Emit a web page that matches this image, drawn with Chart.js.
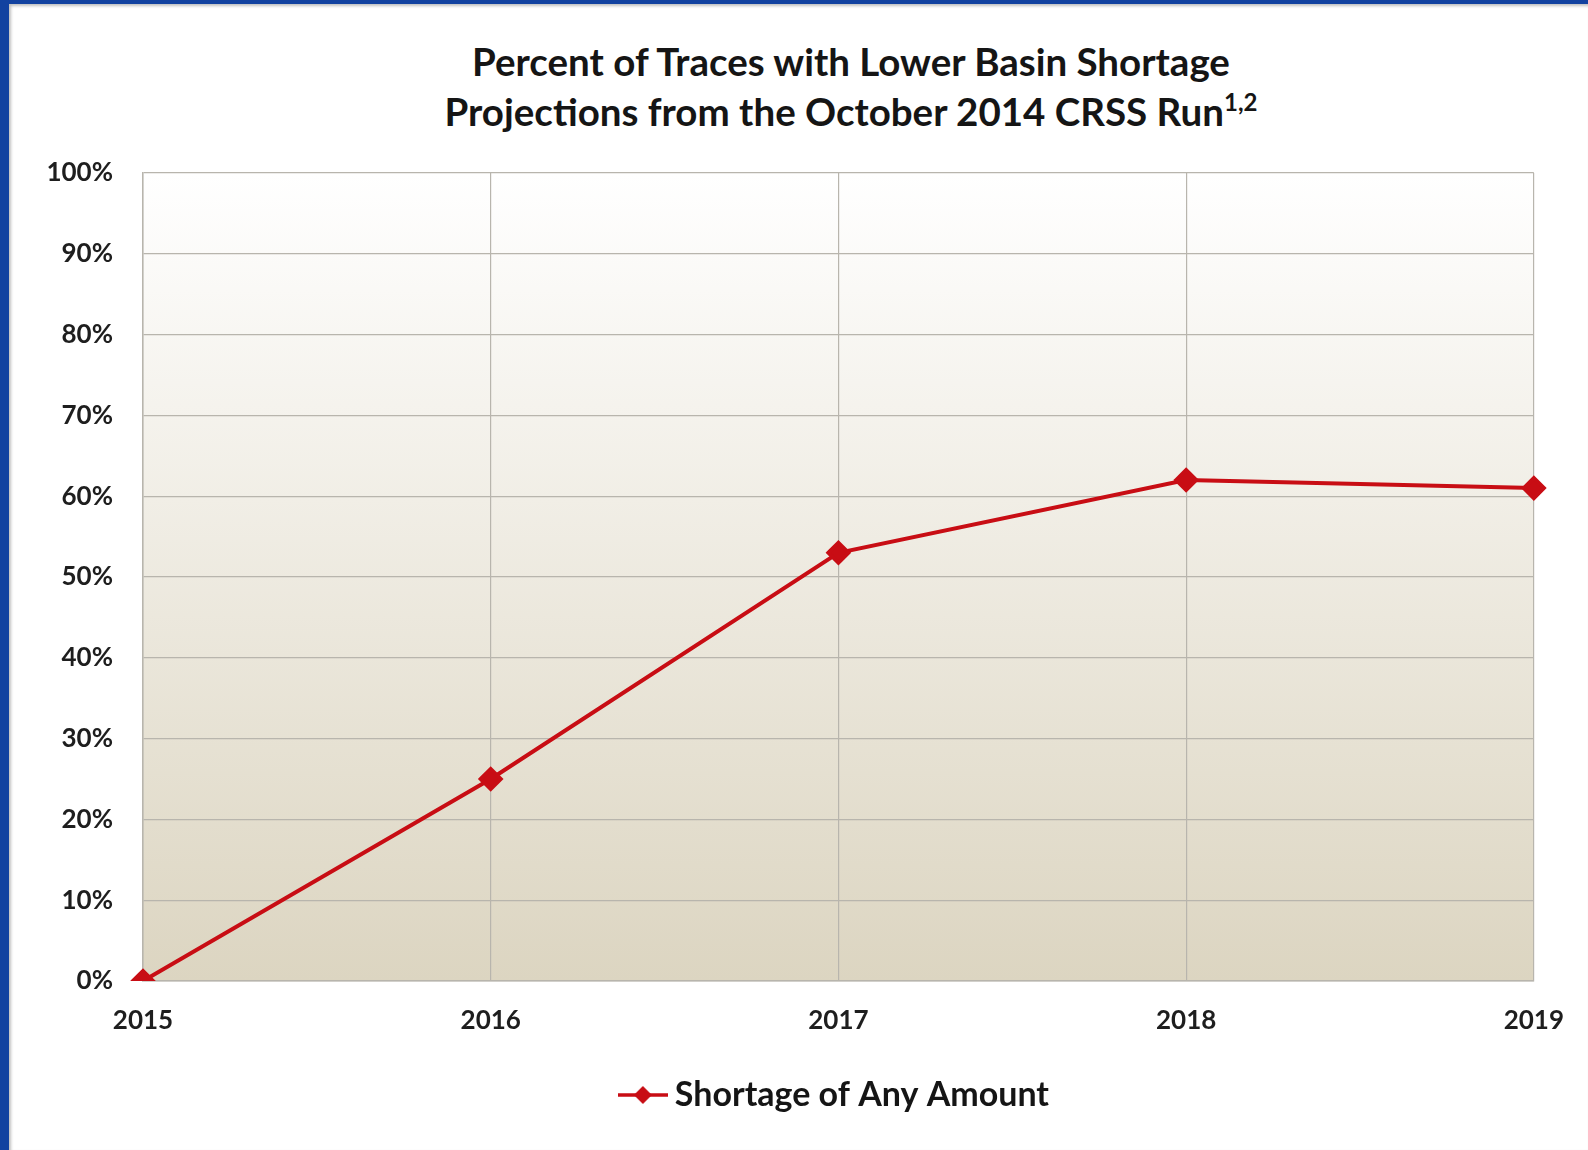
<!DOCTYPE html>
<html>
<head>
<meta charset="utf-8">
<script src="https://cdn.jsdelivr.net/npm/chart.js@4.4.1/dist/chart.umd.min.js"></script>
<style>
	html, body { margin: 0; padding: 0; }
	body { width: 1588px; height: 1150px; background: #1242a0; position: relative; overflow: hidden; }
	#sheet { position: absolute; left: 9px; top: 4px; right: 0; bottom: 0; background: #fff; box-shadow: inset 2px 2px 3px rgba(0,0,0,0.25); }
	#title { position: absolute; left: 351px; top: 36px; width: 1000px; text-align: center; font: bold 38.5px Lato, sans-serif; line-height: 50px; color: #151515; }
	#title sup { font-size: 24px; line-height: 0; vertical-align: 15px; }
	#wrap { position: absolute; left: 0; top: 0; width: 1588px; height: 1150px; }
</style>
</head>
<body>
<div id="sheet"></div>
<div id="title">Percent of Traces with Lower Basin Shortage<br>Projections from the October 2014 CRSS Run<sup>1,2</sup></div>
<div id="wrap"><canvas id="chart-shortage"></canvas></div>
<script>
const YEARS = ["2015", "2016", "2017", "2018", "2019"];
const SHORTAGE_ANY = [0, 25, 53, 62, 61];
const SERIES_LABEL = "Shortage of Any Amount";
const Y_TICKS = [0, 10, 20, 30, 40, 50, 60, 70, 80, 90, 100];

const RED = "#c80d14";
const GRID = "#b8b5ad";
const FONT = "Lato, sans-serif";

// legend icon: short line with a diamond in the middle
const legendIcon = document.createElement("canvas");
legendIcon.width = 50;
legendIcon.height = 20;
(() => {
	const ctx = legendIcon.getContext("2d");
	ctx.strokeStyle = RED;
	ctx.lineWidth = 3.5;
	ctx.beginPath();
	ctx.moveTo(0, 10);
	ctx.lineTo(50, 10);
	ctx.stroke();
	ctx.fillStyle = RED;
	ctx.beginPath();
	ctx.moveTo(25, 1);
	ctx.lineTo(34, 10);
	ctx.lineTo(25, 19);
	ctx.lineTo(16, 10);
	ctx.closePath();
	ctx.fill();
})();

const plotBackground = {
	id: "plotBackground",
	beforeDraw: (chart) => {
		const { ctx, chartArea } = chart;
		if (!chartArea) return;
		const g = ctx.createLinearGradient(0, chartArea.top, 0, chartArea.bottom);
		g.addColorStop(0, "#ffffff");
		g.addColorStop(1, "#dcd5c1");
		ctx.save();
		ctx.fillStyle = g;
		ctx.fillRect(chartArea.left, chartArea.top, chartArea.right - chartArea.left, chartArea.bottom - chartArea.top);
		ctx.restore();
	},
};

const CHART_WRAPPER = document.getElementById("chart-shortage");

const CHART_CONFIG = {
	type: "line",
	data: {
		labels: YEARS,
		datasets: [
			{
				label: SERIES_LABEL,
				data: SHORTAGE_ANY,
				borderColor: RED,
				backgroundColor: RED,
				borderWidth: 4,
				pointStyle: "rectRot",
				pointRadius: 10,
				pointHoverRadius: 10,
				pointBackgroundColor: RED,
				pointBorderColor: RED,
				tension: 0,
			},
		],
	},
	options: {
		responsive: true,
		maintainAspectRatio: false,
		animation: false,
		layout: {
			padding: { top: 173, right: 54, bottom: 28, left: 0 },
		},
		plugins: {
			legend: {
				position: "bottom",
				fullSize: false,
				labels: {
					usePointStyle: true,
					pointStyleWidth: 30,
					color: "#151515",
					font: { family: FONT, size: 34, weight: "bold" },
					padding: 10,
					generateLabels: (chart) => {
						const items = Chart.defaults.plugins.legend.labels.generateLabels(chart);
						items.forEach((it) => { it.pointStyle = legendIcon; });
						return items;
					},
				},
			},
			title: { display: false },
			tooltip: { enabled: false },
		},
		scales: {
			x: {
				offset: false,
				border: { display: true, color: GRID, width: 1.5 },
				grid: { color: GRID, lineWidth: 1.2, drawTicks: false },
				ticks: {
					color: "#1e1e1e",
					font: { family: FONT, size: 26, weight: "bold" },
					padding: 24,
					maxRotation: 0,
				},
				afterFit: (scale) => { scale.height = 87; },
			},
			y: {
				min: 0,
				max: 100,
				border: { display: true, color: GRID, width: 1.5 },
				grid: { color: GRID, lineWidth: 1.2, drawTicks: false },
				afterBuildTicks: (scale) => {
					scale.ticks = Y_TICKS.map((v) => ({ value: v }));
				},
				ticks: {
					color: "#1e1e1e",
					font: { family: FONT, size: 26, weight: "bold" },
					padding: 30,
					callback: (v) => v + "%",
				},
				afterFit: (scale) => { scale.width = 143; },
			},
		},
	},
	plugins: [plotBackground],
};

if (CHART_WRAPPER) {
	new Chart(CHART_WRAPPER, CHART_CONFIG);
}
</script>
</body>
</html>
